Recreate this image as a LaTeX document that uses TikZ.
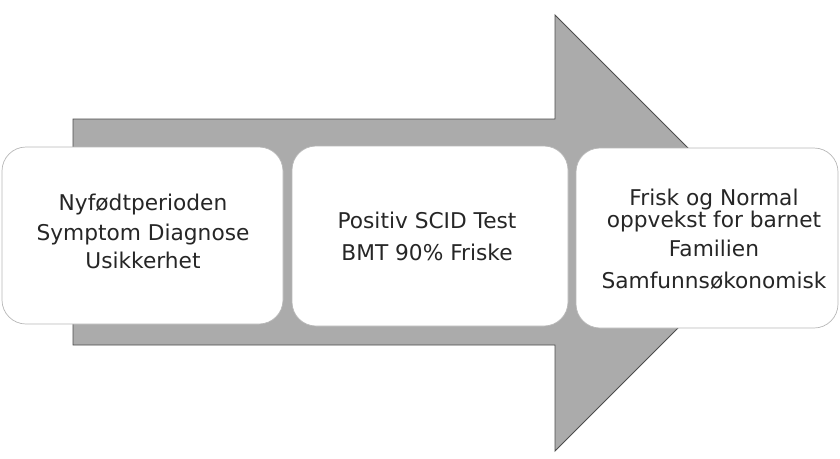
\documentclass[tikz,border=0pt]{standalone}
\usepackage{fontspec}
\setmainfont{DejaVu Sans}
\begin{document}
\begin{tikzpicture}[x=1pt,y=-1pt,
  arrowshape/.style={fill=black!33, draw=black!70, line width=0.9pt, line join=miter},
  stagebox/.style={fill=white, draw=black!28, line width=0.7pt, rounded corners=24pt},
  txt/.style={anchor=base, inner sep=0pt, text=black!85, font=\fontsize{21.7}{26}\selectfont}
]
\useasboundingbox (0,0) rectangle (840,458);
% big arrow
\path[arrowshape] (73,119) -- (555,119) -- (555,15) -- (773,233) -- (555,451) -- (555,345) -- (73,345) -- cycle;
% stage boxes
\path[stagebox] (2,147) rectangle (283,324);
\path[stagebox] (292,146) rectangle (568,326);
\path[stagebox] (576,148) rectangle (838,328);
% texts
\node[txt] (t1a) at (143,210) {Nyfødtperioden};
\node[txt] (t1b) at (143,240) {Symptom Diagnose};
\node[txt] (t1c) at (143,268) {Usikkerhet};
\node[txt] (t2a) at (427,228) {Positiv SCID Test};
\node[txt] (t2b) at (427,260) {BMT 90\% Friske};
\node[txt] (t3a) at (714,205) {Frisk og Normal};
\node[txt] (t3b) at (714,227) {oppvekst for barnet};
\node[txt] (t3c) at (714,256) {Familien};
\node[txt] (t3d) at (714,288) {Samfunnsøkonomisk};
\end{tikzpicture}
\end{document}
